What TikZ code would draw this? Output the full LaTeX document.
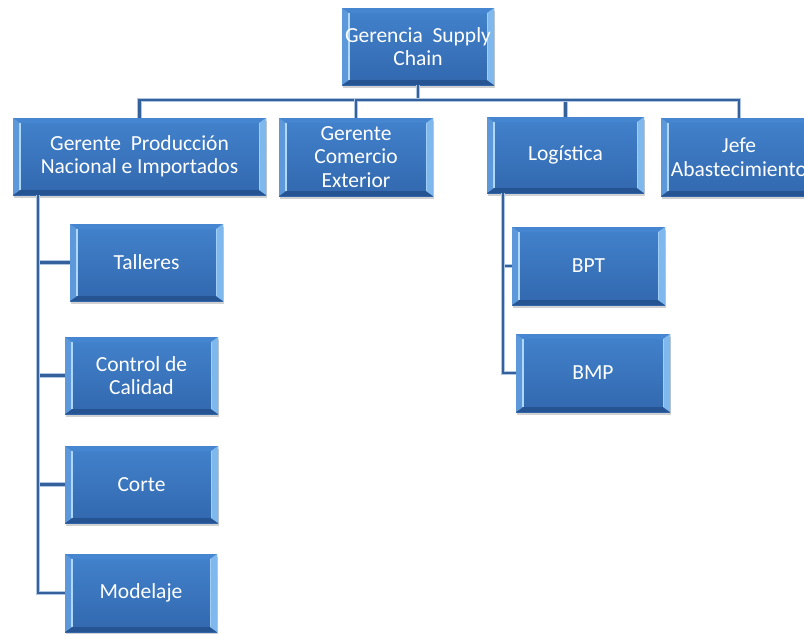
\documentclass[tikz,border=0pt]{standalone}
\usepackage{fontspec}
\setmainfont{Carlito}
\usetikzlibrary{shadows}

\definecolor{faceTop}{RGB}{66,130,204}
\definecolor{faceBot}{RGB}{50,104,174}
\definecolor{bevLeft}{RGB}{92,152,218}
\definecolor{bevRight}{RGB}{126,184,236}
\definecolor{bevTop}{RGB}{70,134,208}
\definecolor{bevBot}{RGB}{38,84,146}
\definecolor{edgeHi}{RGB}{175,215,248}
\definecolor{linkDark}{RGB}{52,96,156}
\definecolor{linkLight}{RGB}{175,198,226}

\tikzset{
  orgbox/.style={
    rectangle, inner sep=0pt, align=center, text=white,
    font=\fontsize{21.5}{23.5}\selectfont,
    top color=faceTop, bottom color=faceBot,
    drop shadow={shadow xshift=1pt, shadow yshift=-3pt, opacity=.3, fill=black!60},
    path picture={
      \coordinate (bbsw) at (path picture bounding box.south west);
      \coordinate (bbne) at (path picture bounding box.north east);
      \coordinate (bbnw) at (path picture bounding box.north west);
      \coordinate (bbse) at (path picture bounding box.south east);
      % bevelled rim around the face
      \fill[bevTop]  (bbnw) -- (bbne) -- ([shift={(-7pt,-5pt)}]bbne) -- ([shift={(7pt,-5pt)}]bbnw) -- cycle;
      \fill[bevBot]  (bbsw) -- (bbse) -- ([shift={(-7pt,5pt)}]bbse) -- ([shift={(7pt,5pt)}]bbsw) -- cycle;
      \fill[bevLeft] (bbsw) -- (bbnw) -- ([shift={(7pt,-5pt)}]bbnw) -- ([shift={(7pt,5pt)}]bbsw) -- cycle;
      \fill[bevRight](bbse) -- (bbne) -- ([shift={(-7pt,-5pt)}]bbne) -- ([shift={(-7pt,5pt)}]bbse) -- cycle;
      \draw[edgeHi, line width=1.1pt] ([shift={(7pt,-5pt)}]bbnw) -- ([shift={(7pt,5pt)}]bbsw);
      \draw[edgeHi!70!bevRight, line width=0.9pt] ([shift={(-7pt,-5pt)}]bbne) -- ([shift={(-7pt,5pt)}]bbse);
    }
  },
  link/.style={draw=linkDark, line width=2.3pt,
    preaction={draw=linkLight, line width=4.2pt}}
}

\begin{document}
\begin{tikzpicture}[x=1pt,y=-1pt]
  \useasboundingbox (0,0) rectangle (804,633);
  \clip (0,0) rectangle (804,633);

  % boxes
  \node[orgbox, minimum width=152pt, minimum height=77pt] (top) at (418,46.5) {Gerencia\ \ Supply\\Chain};
  \node[orgbox, minimum width=253pt, minimum height=77pt] (prod) at (139.5,156.5) {Gerente\ \ Producción\\Nacional e Importados};
  \node[orgbox, minimum width=154pt, minimum height=78pt] (com) at (356,157) {Gerente\\Comercio\\Exterior};
  \node[orgbox, minimum width=157pt, minimum height=76pt] (log) at (565.5,155) {Logística};
  \node[orgbox, minimum width=156pt, minimum height=78pt] (jefe) at (739,157) {Jefe\\Abastecimiento};

  \node[orgbox, minimum width=153pt, minimum height=77pt] (talleres) at (146.5,262.5) {Talleres};
  \node[orgbox, minimum width=153pt, minimum height=77pt] (calidad) at (141.5,375.5) {Control de\\Calidad};
  \node[orgbox, minimum width=153pt, minimum height=77pt] (corte) at (141.5,484.5) {Corte};
  \node[orgbox, minimum width=152pt, minimum height=78pt] (modelaje) at (141,593) {Modelaje};

  \node[orgbox, minimum width=153pt, minimum height=78pt] (bpt) at (588.5,266) {BPT};
  \node[orgbox, minimum width=154pt, minimum height=78pt] (bmp) at (593,373) {BMP};

  % connectors
  \coordinate (bus) at (0,100);
  \draw[link] (top.south) -- (top.south |- bus) -| (prod.north);
  \draw[link] (top.south |- bus) -| (com.north);
  \draw[link] (top.south |- bus) -| (log.north);
  \draw[link] (top.south |- bus) -| (jefe.north);

  \coordinate (pv) at ([xshift=25pt]prod.south west);
  \draw[link] (pv) |- (talleres.west);
  \draw[link] (pv) |- (calidad.west);
  \draw[link] (pv) |- (corte.west);
  \draw[link] (pv) |- (modelaje.west);

  \coordinate (lv) at ([xshift=16pt]log.south west);
  \draw[link] (lv) |- (bpt.west);
  \draw[link] (lv) |- (bmp.west);
\end{tikzpicture}
\end{document}
